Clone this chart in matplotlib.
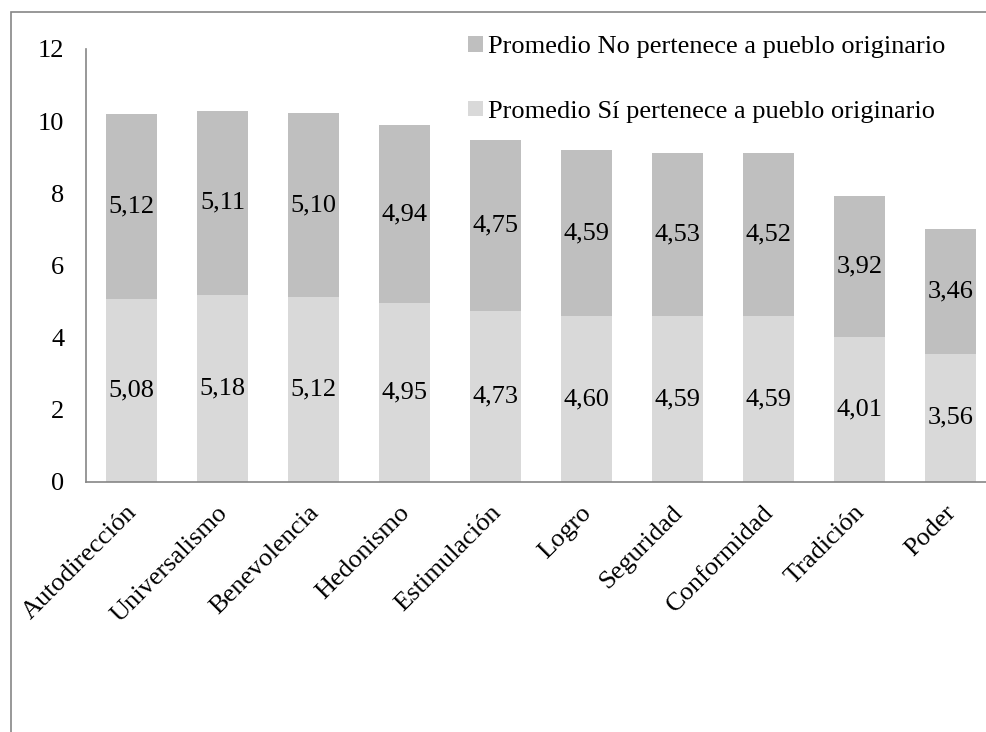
import matplotlib.pyplot as plt
from matplotlib.patches import Patch, Rectangle
from matplotlib.transforms import ScaledTranslation


categories = [
    "Autodirección", "Universalismo", "Benevolencia", "Hedonismo",
    "Estimulación", "Logro", "Seguridad", "Conformidad", "Tradición", "Poder",
]
si_pertenece = [5.08, 5.18, 5.12, 4.95, 4.73, 4.60, 4.59, 4.59, 4.01, 3.56]
no_pertenece = [5.12, 5.11, 5.10, 4.94, 4.75, 4.59, 4.53, 4.52, 3.92, 3.46]
label_si = "Promedio Sí pertenece a pueblo originario"
label_no = "Promedio No pertenece a pueblo originario"
y_ticks = [0, 2, 4, 6, 8, 10, 12]

COLOR_SI = "#d9d9d9"
COLOR_NO = "#bfbfbf"
AXIS_GRAY = "#868686"
FONT_SIZE = 19


def fmt(value: float) -> str:
    return f"{value:.2f}".replace(".", ",")


def main() -> None:
    plt.rcParams["font.family"] = ["Liberation Serif", "DejaVu Serif"]

    fig = plt.figure(figsize=(9.87, 7.32), dpi=100)
    ax = fig.add_axes([86 / 987, 1 - 482 / 732, 910 / 987, 433 / 732])

    x = list(range(len(categories)))
    bars_si = ax.bar(x, si_pertenece, width=0.57, color=COLOR_SI)
    bars_no = ax.bar(
        x, no_pertenece, width=0.57, bottom=si_pertenece, color=COLOR_NO
    )

    for bars, values in ((bars_si, si_pertenece), (bars_no, no_pertenece)):
        ax.bar_label(
            bars,
            labels=[fmt(v) for v in values],
            label_type="center",
            fontsize=FONT_SIZE,
        )

    ax.set_xlim(-0.5, len(categories) - 0.5)
    ax.set_ylim(0, 12)
    ax.set_yticks(y_ticks)
    ax.set_yticklabels([str(t) for t in y_ticks], fontsize=FONT_SIZE)
    ax.set_xticks(x)
    ax.set_xticklabels(
        categories,
        rotation=45,
        ha="right",
        rotation_mode="anchor",
        fontsize=FONT_SIZE,
    )
    ax.tick_params(axis="y", length=0, pad=15.5)
    ax.tick_params(axis="x", length=0, pad=14)

    shift = ScaledTranslation(-6 / 100, 0, fig.dpi_scale_trans)
    for tick_label in ax.get_xticklabels():
        tick_label.set_transform(tick_label.get_transform() + shift)

    for side in ("top", "right"):
        ax.spines[side].set_visible(False)
    for side in ("left", "bottom"):
        ax.spines[side].set_color(AXIS_GRAY)
        ax.spines[side].set_linewidth(1.2)

    handles = [
        Patch(facecolor=COLOR_NO, label=label_no),
        Patch(facecolor=COLOR_SI, label=label_si),
    ]
    fig.legend(
        handles=handles,
        loc="upper left",
        bbox_to_anchor=(468 / 987, 1 - 36 / 732),
        frameon=False,
        fontsize=FONT_SIZE,
        handlelength=0.55,
        handleheight=0.55,
        handletextpad=0.2,
        labelspacing=1.6,
        borderaxespad=0,
        borderpad=0,
    )

    # outer chart frame, only its left and top edges fall inside the picture
    fig.patches.append(
        Rectangle(
            (11 / 987, -0.1),
            1.1,
            1.1 - 12 / 732,
            transform=fig.transFigure,
            fill=False,
            edgecolor=AXIS_GRAY,
            linewidth=1.2,
        )
    )

    fig.savefig("out.png", dpi=100)
    plt.close(fig)


if __name__ == "__main__":
    main()
